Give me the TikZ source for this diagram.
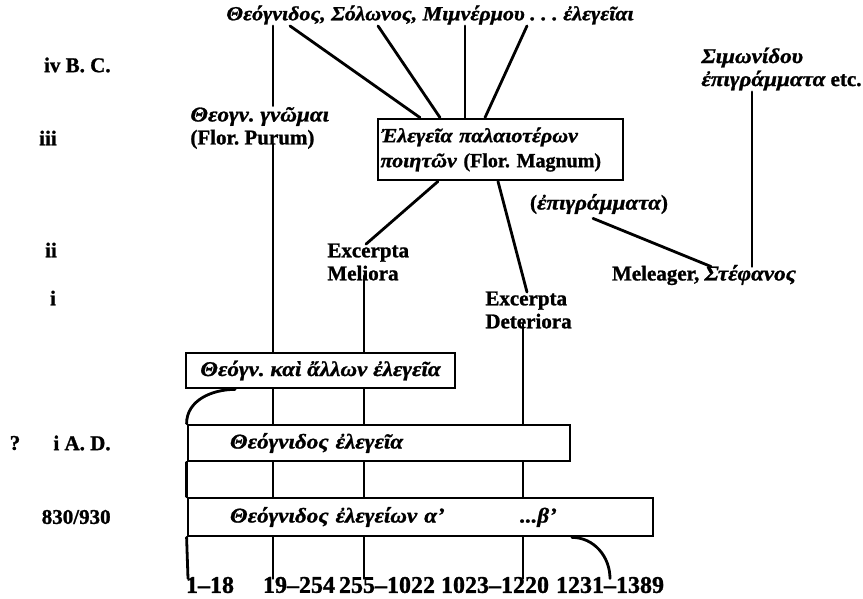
\documentclass[tikz,border=0pt]{standalone}
\usepackage{fontspec}
\setmainfont{Liberation Serif Bold}[FakeBold=1.2]
\newfontfamily\grf{Liberation Serif Bold Italic}[FakeStretch=1.1,FakeBold=1.2]
\usetikzlibrary{calc}
\newcommand\gk[1]{{\grf #1}}
\frenchspacing
\begin{document}
\begin{tikzpicture}[x=1pt,y=-1pt,line width=2.8pt,line cap=round,
  lbl/.style={inner sep=0pt,font=\fontsize{21}{23}\selectfont,align=left},
  num/.style={inner sep=0pt,font=\fontsize{24}{26}\selectfont},
  gbox/.style={draw,line width=2.8pt,inner ysep=0pt,align=left,font=\fontsize{21}{24}\selectfont}]
\useasboundingbox (0,0) rectangle (863,598);
\coordinate (colA) at (188,0);
\coordinate (colB) at (273,0);
\coordinate (colC) at (364,0);
\coordinate (colD) at (523,0);
\coordinate (colE) at (752,0);
\coordinate (colF) at (610,0);
% left time labels
\node[lbl,anchor=east] (ivbc) at (112,65) {iv B. C.};
\node[lbl] (iii) at (48,138) {iii};
\node[lbl] (ii) at (51,250) {ii};
\node[lbl] (i) at (53,298) {i};
\node[lbl] (q) at (15,443) {?};
\node[lbl,anchor=east] (iad) at (112,443) {i A. D.};
\node[lbl,anchor=east] (date) at (112,517) {830/930};
% sources
\node[lbl,font=\fontsize{20}{23}\selectfont] (top) at (430,15) {\gk{Θεόγνιδος, Σόλωνος, Μιμνέρμου . . . ἐλεγεῖαι}};
\node[lbl,anchor=west] (purum) at (189,128) {\gk{Θεογν. γνῶμαι}\\(Flor. Purum)};
\node[gbox,font=\fontsize{20}{25}\selectfont,minimum width=245pt,minimum height=61pt,text width=240pt,inner xsep=2.5pt] (magnum) at (500.5,149.5) {\mbox{\gk{Ἐλεγεῖα παλαιοτέρων}}\\\mbox{\gk{ποιητῶν} (Flor. Magnum)}};
\node[lbl,anchor=west] (simon) at (700,69) {\gk{Σιμωνίδου}\\\gk{ἐπιγράμματα} etc.};
\node[lbl] (epigr) at (599,204) {(\gk{ἐπιγράμματα})};
\node[lbl] (mel) at (704,275) {Meleager, \gk{Στέφανος}};
\node[lbl,anchor=west] (meliora) at (326,262) {Excerpta\\Meliora};
\node[lbl,anchor=west] (deter) at (484,310) {Excerpta\\Deteriora};
% boxes
\node[gbox,minimum width=269pt,minimum height=35pt,align=center] (kai) at (320.5,370.5) {\gk{Θεόγν. καὶ ἄλλων ἐλεγεῖα}};
\node[gbox,minimum width=382pt,minimum height=36pt,text width=298pt,inner xsep=42pt] (eleg) at (379,443) {\gk{Θεόγνιδος ἐλεγεῖα}};
\node[gbox,minimum width=465pt,minimum height=38pt,text width=381pt,inner xsep=42pt] (elegeion) at (420.5,517) {\makebox[290pt][l]{\gk{Θεόγνιδος ἐλεγείων α’}}\gk{...β’}};
% line numbers
\node[num] (n1) at (210,585) {1–18};
\node[num] (n2) at (299,585) {19–254};
\node[num] (n3) at (387,585) {255–1022};
\node[num] (n4) at (495,585) {1023–1220};
\node[num] (n5) at (610,585) {1231–1389};
% connectors top
\draw ([xshift=-157pt]top.south) -- (purum.north -| colB);
\draw ([xshift=-140pt]top.south) -- ([xshift=-80.5pt]magnum.north);
\draw ([xshift=-52pt]top.south) -- ([xshift=-60.5pt]magnum.north);
\draw ([xshift=35pt]top.south) -- ([xshift=-35.5pt]magnum.north);
\draw ([xshift=97pt]top.south) -- ([xshift=-15.5pt]magnum.north);
\draw ([xshift=-62.5pt]magnum.south) -- ([xshift=40pt,yshift=-2pt]meliora.north west);
\draw ([xshift=-2.5pt]magnum.south) -- ([xshift=43pt,yshift=-2pt]deter.north west);
\draw ([xshift=-6pt,yshift=-3pt]epigr.south) -- ([xshift=7pt,yshift=-3pt]mel.north);
\draw (simon.south -| colE) -- ([yshift=-3pt]mel.north -| colE);
% columns
\draw ([yshift=6pt]purum.south -| colB) -- (kai.north -| colB);
\draw (kai.south -| colB) -- (eleg.north -| colB);
\draw (eleg.south -| colB) -- (elegeion.north -| colB);
\draw (elegeion.south -| colB) -- ([yshift=-3pt]n2.north -| colB);
\draw ([yshift=6pt]meliora.south -| colC) -- (kai.north -| colC);
\draw (kai.south -| colC) -- (eleg.north -| colC);
\draw (eleg.south -| colC) -- (elegeion.north -| colC);
\draw (elegeion.south -| colC) -- ([yshift=-3pt]n3.north -| colC);
\draw ([yshift=6pt]deter.south -| colD) -- (eleg.north -| colD);
\draw (eleg.south -| colD) -- (elegeion.north -| colD);
\draw (elegeion.south -| colD) -- ([yshift=-3pt]n4.north -| colD);
\draw ([xshift=-85.5pt]kai.south) to[out=180,in=90] (eleg.north west);
\draw (eleg.south west) -- (elegeion.north west);
\draw (elegeion.south west) -- ([yshift=-3pt]n1.north -| colA);
\draw ([xshift=151.5pt]elegeion.south) to[out=0,in=90] ([yshift=-3pt]n5.north -| colF);
\end{tikzpicture}
\end{document}
